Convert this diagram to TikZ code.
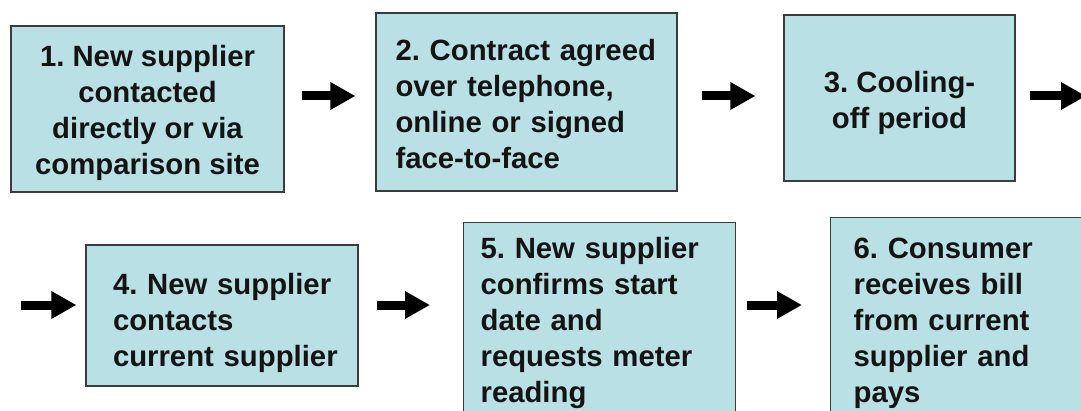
\documentclass[tikz,border=0pt]{standalone}
\usepackage{fontspec}
\setmainfont{Liberation Sans}
\usepackage{tikz}
\usepackage{xcolor}
\usetikzlibrary{arrows.meta, calc, positioning}
\definecolor{stepfill}{RGB}{185,224,228}
\definecolor{stepline}{RGB}{60,60,60}
\definecolor{steptext}{RGB}{20,20,20}
\hfuzz=20pt
\newcommand{\stepfont}{\fontsize{29.3pt}{36pt}\selectfont\bfseries\frenchspacing\hyphenpenalty=10000 \exhyphenpenalty=10000 }
% extra room above the first line of a box
\newcommand{\stepraise}[1]{\rule{0pt}{\dimexpr21pt+#1\relax}}

\begin{document}
\begin{tikzpicture}[x=1pt, y=1pt,
  stepbox/.style={draw=stepline, fill=stepfill, line width=1.2pt, font=\stepfont, text=steptext, inner sep=0pt},
  flowarrow/.style={line width=9pt, -{Triangle[length=25pt, width=26pt]}}]
\useasboundingbox (0,0) rectangle (1081,410);

% Top row
\node[stepbox, minimum width=273pt, minimum height=166pt, align=center] (s1) at (147.5,301) {\stepraise{8pt}1. New supplier\\contacted\\directly or via\\comparison site};
\node[stepbox, minimum width=301pt, minimum height=178pt, text width=262pt, inner xsep=19.5pt, align=left] (s2) at (526.5,308) {\stepraise{4pt}\mbox{2. Contract agreed}\\over telephone,\\online or signed\\face-to-face};
\node[stepbox, minimum width=231pt, minimum height=166pt, align=center] (s3) at (899.5,312) {\stepraise{11pt}3. Cooling-\\off period};

% Bottom row
\node[stepbox, minimum width=272pt, minimum height=141pt, text width=218pt, inner xsep=27pt, align=left] (s4) at (222,94.5) {\stepraise{16pt}\mbox{4. New supplier}\\contacts\\\mbox{current supplier}};
\node[stepbox, anchor=north west, text width=238pt, inner xsep=17pt, inner ysep=15pt, align=left] (s5) at (463,188) {5. New supplier\\confirms start\\date and\\requests meter\\reading};
\node[stepbox, anchor=north west, text width=250pt, inner xsep=23pt, inner ysep=20pt, align=left] (s6) at (830,193) {6. Consumer\\receives bill\\from current\\supplier and\\pays};

% Arrow heights and loose ends
\coordinate (row1) at (0,314);
\coordinate (row2) at (0,105);
\coordinate (out3) at (1086,314);
\coordinate (in4) at (21,105);

% Arrows
\draw[flowarrow, shorten <=17pt, shorten >=20pt] (s1.east |- row1) -- (s2.west |- row1);
\draw[flowarrow, shorten <=24pt, shorten >=28pt] (s2.east |- row1) -- (s3.west |- row1);
\draw[flowarrow, shorten <=14pt] (s3.east |- row1) -- (out3);
\draw[flowarrow, shorten >=9pt] (in4) -- (s4.west |- row2);
\draw[flowarrow, shorten <=18pt, shorten >=33pt] (s4.east |- row2) -- (s5.west |- row2);
\draw[flowarrow, shorten <=11pt, shorten >=28pt] (s5.east |- row2) -- (s6.west |- row2);

\end{tikzpicture}
\end{document}
